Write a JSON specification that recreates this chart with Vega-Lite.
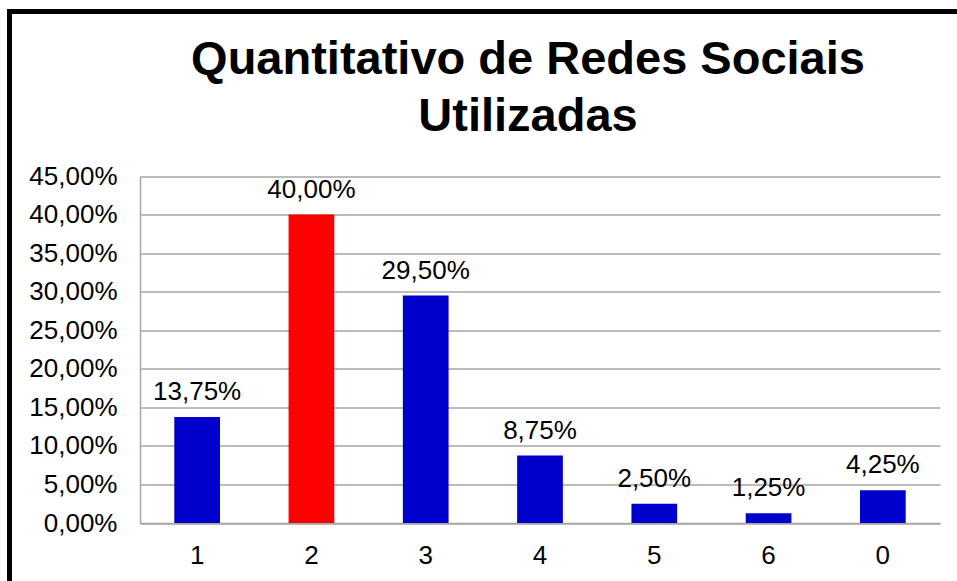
{
  "$schema": "https://vega.github.io/schema/vega-lite/v6.json",
  "autosize": {"type": "none"},
  "padding": {"left": 9.5, "top": 11.5, "right": 0, "bottom": 0},
  "width": 960,
  "height": 580,
  "background": "white",
  "title": {
    "text": ["Quantitativo de Redes Sociais", "Utilizadas"],
    "font": "Liberation Sans",
    "fontSize": 47,
    "fontWeight": "bold",
    "color": "black",
    "anchor": "middle",
    "frame": "group",
    "baseline": "alphabetic",
    "lineHeight": 57,
    "offset": 0,
    "dx": 38.5,
    "dy": 166.5
  },
  "data": {
    "values": [
      {"redes": "1", "pct": 0.1375},
      {"redes": "2", "pct": 0.40},
      {"redes": "3", "pct": 0.295},
      {"redes": "4", "pct": 0.0875},
      {"redes": "5", "pct": 0.025},
      {"redes": "6", "pct": 0.0125},
      {"redes": "0", "pct": 0.0425}
    ]
  },
  "encoding": {
    "x": {
      "field": "redes",
      "type": "nominal",
      "sort": null,
      "scale": {"range": [130.5, 930.5], "paddingInner": 0.6, "paddingOuter": 0.3},
      "axis": {
        "title": null,
        "labelAngle": 0,
        "ticks": false,
        "domainColor": "#A6A6A6",
        "domainWidth": 1.5,
        "labelFont": "Liberation Sans",
        "labelFontSize": 26,
        "labelColor": "black",
        "labelPadding": 19,
        "offset": -68.5,
        "grid": false
      }
    },
    "y": {
      "field": "pct",
      "type": "quantitative",
      "scale": {"domain": [0, 0.45], "range": [511.5, 164.5], "nice": false, "zero": true},
      "axis": {
        "title": null,
        "values": [0, 0.05, 0.1, 0.15, 0.2, 0.25, 0.3, 0.35, 0.4, 0.45],
        "format": ".2%",
        "ticks": false,
        "domainColor": "#A6A6A6",
        "domainWidth": 1.5,
        "gridColor": "#A6A6A6",
        "gridWidth": 1.5,
        "labelFont": "Liberation Sans",
        "labelFontSize": 26,
        "labelColor": "black",
        "labelPadding": 23,
        "offset": -130.5
      }
    }
  },
  "layer": [
    {
      "mark": {"type": "bar"},
      "encoding": {
        "color": {
          "condition": {"test": "datum.redes === '2'", "value": "#FF0000"},
          "value": "#0000CC"
        }
      }
    },
    {
      "mark": {"type": "text", "baseline": "alphabetic", "dy": -17, "font": "Liberation Sans", "fontSize": 26, "color": "black"},
      "encoding": {
        "text": {"field": "pct", "type": "quantitative", "format": ".2%"}
      }
    }
  ],
  "config": {
    "locale": {"number": {"decimal": ",", "thousands": ".", "grouping": [3], "currency": ["R$", ""]}},
    "view": {"stroke": "black", "strokeWidth": 5}
  }
}
